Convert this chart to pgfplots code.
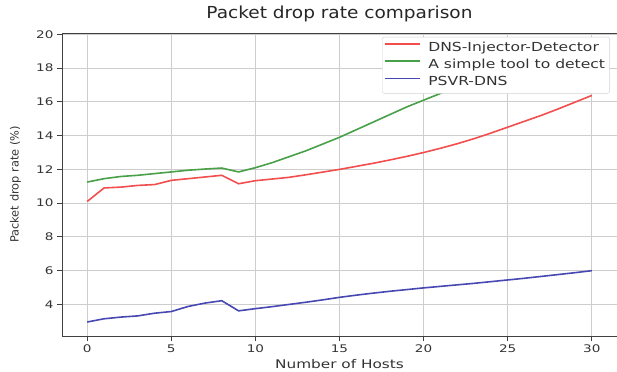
\documentclass[border=0pt]{standalone}
\usepackage{fontspec}
\setmainfont{DejaVu Sans}
\newfontfamily\tickfont[FakeStretch=1.3]{DejaVu Sans}
\newfontfamily\titlefont[FakeStretch=1.12]{DejaVu Sans}
\newfontfamily\xlabfont[FakeStretch=1.28]{DejaVu Sans}
\newfontfamily\legfont[FakeStretch=1.25]{DejaVu Sans}
\usepackage{pgfplots}
\pgfplotsset{compat=1.18}
\pgfplotsset{legend image code/.code={\draw[#1] (0bp,4bp) -- (35bp,4bp);}}
\definecolor{cred}{RGB}{242,78,78}
\definecolor{cgreen}{RGB}{72,160,72}
\definecolor{cblue}{RGB}{72,72,178}
\definecolor{cgrid}{RGB}{205,205,205}
\definecolor{cspine}{RGB}{64,64,64}
\definecolor{cleg}{RGB}{210,210,210}
\begin{document}
\begin{tikzpicture}
\useasboundingbox (-62bp,-36bp) rectangle (555bp,336bp);
\begin{axis}[
  at={(0,0)}, anchor=south west,
  scale only axis, width=555bp, height=303bp,
  xmin=-1.5, xmax=31.5, ymin=2.13, ymax=20.08,
  xtick={0,5,10,15,20,25,30},
  ytick={4,6,8,10,12,14,16,18,20},
  grid=major,
  major grid style={color=cgrid, line width=1.1bp},
  axis line style={color=cspine, line width=0.9bp},
  tick align=outside, major tick length=5bp,
  tick style={color=cspine, line width=0.9bp},
  xtick pos=bottom, ytick pos=left,
  /pgf/number format/assume math mode=true,
  tick label style={font=\tickfont\fontsize{10.5}{10.5}\selectfont, color=black!80},
  title={Packet drop rate comparison},
  title style={font=\titlefont\fontsize{16.6}{16.6}\selectfont, color=black!85, at={(0.5,1)}, anchor=base, yshift=9bp},
  xlabel={Number of Hosts},
  xlabel style={font=\xlabfont\fontsize{12}{12}\selectfont, color=black!80, at={(axis description cs:0.5,0)}, anchor=base, yshift=-32bp},
  ylabel={Packet drop rate (\%)},
  ylabel style={font=\fontsize{11.4}{11.4}\selectfont, color=black!80, at={(axis description cs:0,0.5)}, anchor=center, yshift=46.5bp},
  legend cell align=left,
  legend style={at={(axis description cs:0.987,0.987)}, anchor=north east,
    draw=cleg, fill=white, rounded corners=2bp,
    inner xsep=2bp, inner ysep=2bp,
    font=\legfont\fontsize{12.5}{12.5}\selectfont, text=black!80,
    /tikz/every odd column/.append style={column sep=5bp},
    nodes={inner xsep=2.5bp, inner ysep=2.45bp, text height=9.5bp, text depth=3bp}},
]
\addplot[cred, line width=1.6bp] coordinates {
(0,10.1) (1,10.9) (2,10.95) (3,11.05) (4,11.1) (5,11.35) (6,11.45) (7,11.55) (8,11.65) (9,11.15)
(10,11.33) (11,11.43) (12,11.53) (13,11.68) (14,11.84) (15,12.0) (16,12.18) (17,12.36) (18,12.56) (19,12.77)
(20,13.0) (21,13.25) (22,13.52) (23,13.82) (24,14.15) (25,14.5) (26,14.85) (27,15.2) (28,15.58) (29,15.98) (30,16.38)
};
\addlegendentry{DNS-Injector-Detector}
\addplot[cgreen, line width=1.6bp] coordinates {
(0,11.25) (1,11.45) (2,11.58) (3,11.65) (4,11.75) (5,11.85) (6,11.95) (7,12.02) (8,12.08) (9,11.85)
(10,12.1) (11,12.4) (12,12.75) (13,13.1) (14,13.5) (15,13.9) (16,14.35) (17,14.8) (18,15.25) (19,15.7)
(20,16.1) (21,16.5) (22,16.85) (23,17.2) (24,17.5) (25,17.8) (26,18.1) (27,18.4) (28,18.7) (29,18.98) (30,19.25)
};
\addlegendentry{A simple tool to detect}
\addplot[cblue, line width=1.6bp] coordinates {
(0,2.96) (1,3.15) (2,3.25) (3,3.32) (4,3.48) (5,3.58) (6,3.88) (7,4.08) (8,4.22) (9,3.62)
(10,3.75) (11,3.87) (12,4.0) (13,4.13) (14,4.27) (15,4.42) (16,4.55) (17,4.67) (18,4.78) (19,4.88)
(20,4.98) (21,5.07) (22,5.16) (23,5.25) (24,5.35) (25,5.45) (26,5.55) (27,5.66) (28,5.77) (29,5.88) (30,6.0)
};
\addlegendentry{PSVR-DNS}
\end{axis}
\end{tikzpicture}
\end{document}
